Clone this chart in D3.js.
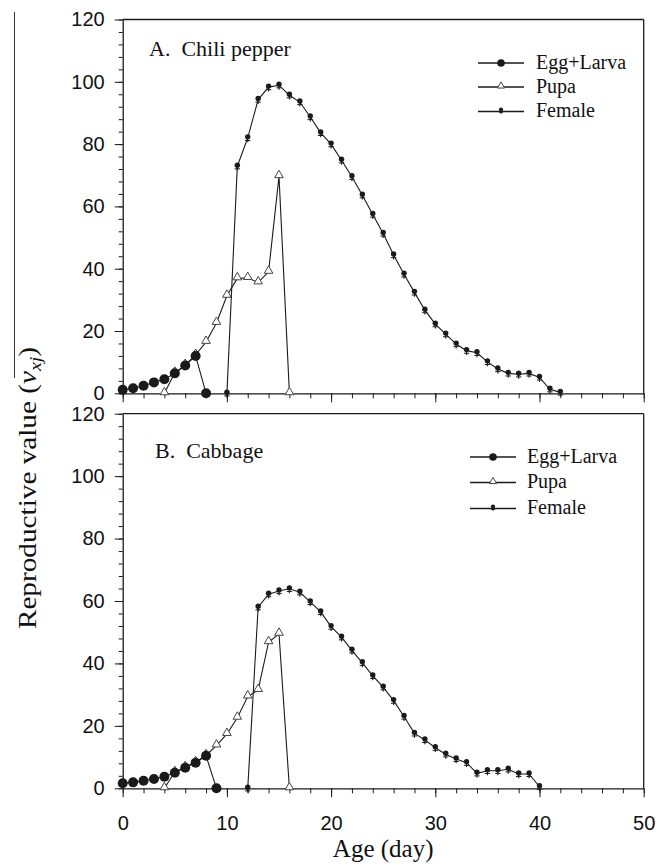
<!DOCTYPE html>
<html>
<head>
<meta charset="utf-8">
<script src="https://cdn.jsdelivr.net/npm/d3@7"></script>
<style>
  html, body { margin: 0; padding: 0; background: #fff; }
  svg { display: block; }
  .tick text { font-family: "Liberation Sans", Arial, sans-serif; font-size: 20px; fill: #111; }
  .serif { font-family: "Liberation Serif", "Times New Roman", serif; fill: #111; }
</style>
</head>
<body>
<svg id="chart" width="668" height="866"></svg>
<script>
// ---------- Data ----------
const xTicks = [0, 10, 20, 30, 40, 50];
const yTicks = [0, 20, 40, 60, 80, 100, 120];
const seriesNames = ["Egg+Larva", "Pupa", "Female"];

// Panel A: Chili pepper
const chiliEggAge = [0, 1, 2, 3, 4, 5, 6, 7, 8];
const chiliEgg = [1.1, 1.6, 2.4, 3.5, 4.5, 6.4, 8.9, 12.0, 0];
const chiliPupaAge = [4, 5, 6, 7, 8, 9, 10, 11, 12, 13, 14, 15, 16];
const chiliPupa = [0, 6.6, 9.1, 12.3, 16.5, 22.6, 31.3, 36.9, 37.0, 35.6, 39.0, 69.7, 0];
const chiliFemaleAge = d3.range(10, 43);
const chiliFemale = [0, 72.9, 82.0, 94.3, 98.3, 98.9, 95.7, 93.5, 88.7, 83.6, 80.0, 74.8, 69.5,
  63.6, 57.4, 51.3, 44.4, 38.2, 32.4, 26.7, 22.2, 19.0, 15.8, 13.7, 13.0, 10.1, 7.8,
  6.4, 6.1, 6.4, 5.1, 1.3, 0.3];

// Panel B: Cabbage
const cabbageEggAge = [0, 1, 2, 3, 4, 5, 6, 7, 8, 9];
const cabbageEgg = [1.6, 1.9, 2.4, 3.0, 3.7, 5.0, 6.6, 8.2, 10.4, 0];
const cabbagePupaAge = [4, 5, 6, 7, 8, 9, 10, 11, 12, 13, 14, 15, 16];
const cabbagePupa = [0, 5.2, 6.8, 8.4, 10.6, 13.7, 17.4, 22.6, 29.4, 31.5, 46.8, 49.5, 0];
const cabbageFemaleAge = d3.range(12, 41);
const cabbageFemale = [0, 58.0, 62.2, 63.2, 63.9, 62.8, 59.7, 56.5, 51.8, 48.4, 44.2, 40.2,
  36.0, 32.4, 28.1, 23.0, 17.6, 15.5, 13.0, 10.9, 9.4, 8.2, 4.8, 5.6, 5.6, 6.1, 4.6, 4.6, 0.5];

const panels = [
  { title: "A.  Chili pepper", egg: [chiliEggAge, chiliEgg], pupa: [chiliPupaAge, chiliPupa],
    female: [chiliFemaleAge, chiliFemale], top: 19.5, bottom: 393.3, labels: false,
    titlePos: [149, 55.5], legend: { x1: 478, x2: 524, tx: 536, ys: [63, 87, 111.5] } },
  { title: "B.  Cabbage", egg: [cabbageEggAge, cabbageEgg], pupa: [cabbagePupaAge, cabbagePupa],
    female: [cabbageFemaleAge, cabbageFemale], top: 413.7, bottom: 788.3, labels: true,
    titlePos: [155, 458], legend: { x1: 470, x2: 516, tx: 527, ys: [457, 482.5, 508.5] } }
];

// ---------- Drawing ----------
const svg = d3.select("#chart");
const x = d3.scaleLinear().domain([0, 50]).range([122.7, 643.7]);
const ink = "#1a1a1a";

function femaleMarker(g, cx, cy, s) {
  s = s || 1;
  g.append("circle").attr("cx", cx).attr("cy", cy).attr("r", 3 * s).attr("fill", ink);
  g.append("line").attr("x1", cx).attr("x2", cx).attr("y1", cy).attr("y2", cy + 6 * s)
    .attr("stroke", ink).attr("stroke-width", 1.1);
  g.append("line").attr("x1", cx - 3 * s).attr("x2", cx + 3 * s).attr("y1", cy + 4 * s).attr("y2", cy + 4 * s)
    .attr("stroke", ink).attr("stroke-width", 1);
}
const tri = d3.symbol().type(d3.symbolTriangle).size(32);
const triSmall = d3.symbol().type(d3.symbolTriangle).size(22);

panels.forEach(p => {
  const y = d3.scaleLinear().domain([0, 120]).range([p.bottom, p.top]);
  const g = svg.append("g");

  // frame: top and right
  g.append("line").attr("x1", x(0)).attr("x2", x(50)).attr("y1", y(120)).attr("y2", y(120))
    .attr("stroke", ink).attr("stroke-width", 1.3);
  g.append("line").attr("x1", x(50)).attr("x2", x(50)).attr("y1", y(120)).attr("y2", y(0))
    .attr("stroke", ink).attr("stroke-width", 1.3);

  // y axis minor + major
  g.append("g").attr("transform", `translate(${x(0)},0)`)
    .call(d3.axisLeft(y).tickValues(d3.range(0, 121, 4)).tickSize(4).tickFormat("").tickSizeOuter(0))
    .call(a => a.select(".domain").remove())
    .selectAll("line").attr("stroke", ink);
  g.append("g").attr("transform", `translate(${x(0)},0)`)
    .call(d3.axisLeft(y).tickValues(yTicks).tickSize(8).tickPadding(10).tickSizeOuter(0))
    .call(a => a.select(".domain").attr("stroke", ink).attr("stroke-width", 1.3))
    .selectAll("line").attr("stroke", ink);

  // x axis minor + major
  g.append("g").attr("transform", `translate(0,${y(0)})`)
    .call(d3.axisBottom(x).tickValues(d3.range(0, 51, 2)).tickSize(5).tickFormat("").tickSizeOuter(0))
    .call(a => a.select(".domain").remove())
    .selectAll("line").attr("stroke", ink);
  const xa = g.append("g").attr("transform", `translate(0,${y(0)})`)
    .call(d3.axisBottom(x).tickValues(xTicks).tickSize(9).tickPadding(19).tickSizeOuter(0));
  xa.select(".domain").attr("stroke", ink).attr("stroke-width", 1.3);
  xa.selectAll("line").attr("stroke", ink);
  if (!p.labels) xa.selectAll("text").remove();

  // title
  g.append("text").attr("class", "serif").attr("x", p.titlePos[0]).attr("y", p.titlePos[1])
    .attr("font-size", 22).attr("xml:space", "preserve").text(p.title);

  const line = d3.line().x(d => x(d[0])).y(d => y(d[1]));
  const pts = s => s[0].map((a, i) => [a, s[1][i]]);

  // Pupa
  const pupa = pts(p.pupa);
  g.append("path").attr("d", line(pupa)).attr("fill", "none").attr("stroke", ink).attr("stroke-width", 1.1);
  g.selectAll(null).data(pupa).enter().append("path")
    .attr("d", tri).attr("transform", d => `translate(${x(d[0])},${y(d[1]) - 1})`)
    .attr("fill", "#fff").attr("stroke", "#444").attr("stroke-width", 1);

  // Egg + Larva
  const egg = pts(p.egg);
  g.append("path").attr("d", line(egg)).attr("fill", "none").attr("stroke", ink).attr("stroke-width", 1.1);
  g.selectAll(null).data(egg).enter().append("circle")
    .attr("cx", d => x(d[0])).attr("cy", d => y(d[1])).attr("r", 5).attr("fill", ink);

  // Female
  const fem = pts(p.female);
  g.append("path").attr("d", line(fem)).attr("fill", "none").attr("stroke", ink).attr("stroke-width", 1.1);
  fem.forEach(d => femaleMarker(g, x(d[0]), y(d[1]) - 1, 0.9));

  // legend
  const L = p.legend;
  seriesNames.forEach((name, i) => {
    const ly = L.ys[i];
    g.append("line").attr("x1", L.x1).attr("x2", L.x2).attr("y1", ly).attr("y2", ly)
      .attr("stroke", ink).attr("stroke-width", 1.3);
    const mx = (L.x1 + L.x2) / 2;
    if (i === 0) g.append("circle").attr("cx", mx).attr("cy", ly).attr("r", 3.8).attr("fill", ink);
    if (i === 1) g.append("path").attr("d", triSmall).attr("transform", `translate(${mx},${ly - 1})`)
      .attr("fill", "#fff").attr("stroke", "#444").attr("stroke-width", 1);
    if (i === 2) femaleMarker(g, mx, ly - 2, 0.7);
    g.append("text").attr("class", "serif").attr("x", L.tx).attr("y", ly + 5.5)
      .attr("font-size", 20).text(name);
  });
});

// left artefact line
svg.append("line").attr("x1", 14.5).attr("x2", 14.5).attr("y1", 12).attr("y2", 378)
  .attr("stroke", "#333").attr("stroke-width", 1);

// y axis title
const yt = svg.append("text").attr("class", "serif")
  .attr("transform", "translate(36,488) rotate(-90) scale(1.17,1)")
  .attr("text-anchor", "middle").attr("font-size", 25);
yt.append("tspan").text("Reproductive value (");
yt.append("tspan").attr("font-style", "italic").text("v");
yt.append("tspan").attr("font-style", "italic").attr("font-size", 17).attr("dy", 5).text("xj");
yt.append("tspan").attr("dy", -5).text(")");

// x axis title
svg.append("text").attr("class", "serif").attr("x", x(25)).attr("y", 857)
  .attr("text-anchor", "middle").attr("font-size", 25).text("Age (day)");
</script>
</body>
</html>
